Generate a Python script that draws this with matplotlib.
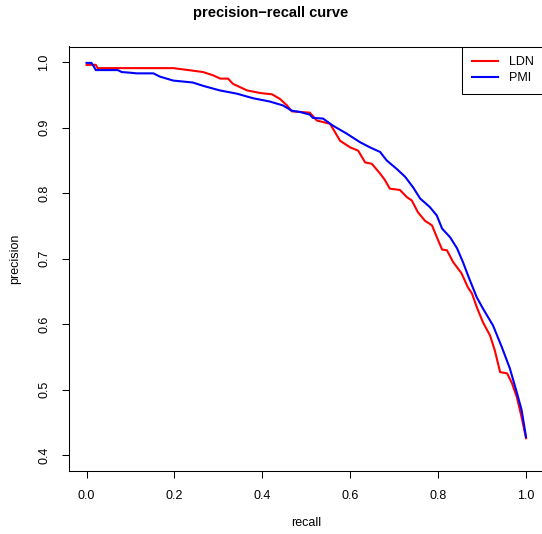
import matplotlib.pyplot as plt

plt.rcParams['font.family'] = ['Liberation Sans', 'DejaVu Sans']

# LDN curve (recall, precision)
ldn_recall = [0.0, 0.021, 0.025, 0.197, 0.243, 0.265, 0.288, 0.304, 0.322, 0.333,
              0.365, 0.395, 0.422, 0.440, 0.456, 0.467, 0.508, 0.524, 0.554, 0.577,
              0.600, 0.618, 0.634, 0.649, 0.668, 0.679, 0.690, 0.713, 0.729, 0.740,
              0.754, 0.770, 0.786, 0.797, 0.809, 0.820, 0.834, 0.853, 0.868, 0.877,
              0.888, 0.902, 0.918, 0.929, 0.941, 0.957, 0.968, 0.979, 0.990, 1.0]
ldn_precision = [0.996, 0.996, 0.991, 0.991, 0.987, 0.985, 0.980, 0.975, 0.975, 0.967,
                 0.957, 0.953, 0.951, 0.944, 0.934, 0.925, 0.923, 0.911, 0.906, 0.880,
                 0.870, 0.865, 0.847, 0.845, 0.830, 0.820, 0.807, 0.805, 0.794, 0.789,
                 0.771, 0.758, 0.751, 0.733, 0.714, 0.713, 0.695, 0.678, 0.656, 0.647,
                 0.626, 0.603, 0.583, 0.560, 0.527, 0.525, 0.510, 0.489, 0.458, 0.426]

# PMI curve
pmi_recall = [0.0, 0.011, 0.015, 0.021, 0.071, 0.080, 0.099, 0.114, 0.152, 0.167,
              0.197, 0.242, 0.265, 0.303, 0.342, 0.379, 0.417, 0.447, 0.467, 0.486,
              0.508, 0.515, 0.538, 0.561, 0.592, 0.622, 0.645, 0.668, 0.683, 0.706,
              0.725, 0.743, 0.759, 0.781, 0.797, 0.809, 0.827, 0.843, 0.857, 0.870,
              0.888, 0.902, 0.925, 0.945, 0.963, 0.979, 0.990, 1.0]
pmi_precision = [0.999, 0.999, 0.995, 0.988, 0.988, 0.985, 0.984, 0.983, 0.983, 0.978,
                 0.972, 0.969, 0.964, 0.957, 0.952, 0.945, 0.940, 0.934, 0.926, 0.924,
                 0.920, 0.915, 0.914, 0.903, 0.891, 0.878, 0.870, 0.863, 0.850, 0.837,
                 0.825, 0.809, 0.792, 0.779, 0.766, 0.746, 0.733, 0.716, 0.694, 0.671,
                 0.641, 0.624, 0.598, 0.565, 0.533, 0.496, 0.469, 0.428]

x_ticks = [0.0, 0.2, 0.4, 0.6, 0.8, 1.0]
y_ticks = [0.4, 0.5, 0.6, 0.7, 0.8, 0.9, 1.0]

W, H = 542, 534
fig = plt.figure(figsize=(W / 100, H / 100), dpi=100)
left, right, top, bottom = 69, 543.6, 46.5, 471
ax = fig.add_axes([left / W, (H - bottom) / H, (right - left) / W, (bottom - top) / H])

ax.plot(ldn_recall, ldn_precision, color='#ff0000', lw=1.5, label='LDN')
ax.plot(pmi_recall, pmi_precision, color='#0000ff', lw=1.5, label='PMI')

ax.set_xlim(-0.04, 1.04)
ax.set_ylim(0.376, 1.024)
ax.set_xticks(x_ticks)
ax.set_xticklabels(['%.1f' % v for v in x_ticks])
ax.set_yticks(y_ticks)
ax.set_yticklabels(['%.1f' % v for v in y_ticks], rotation=90, va='center')
ax.tick_params(direction='out', length=5, width=0.75, labelsize=9, pad=8.5)
for s in ax.spines.values():
    s.set_linewidth(0.75)

ax.set_xlabel('recall', fontsize=9, labelpad=11)
ax.set_ylabel('precision', fontsize=9, labelpad=12)
fig.text(0.5, 1 - 13 / H, 'precision\u2212recall curve', ha='center', va='center',
         fontsize=10.5, fontweight='bold')

leg = ax.legend(loc='upper right', borderaxespad=0, fancybox=False, edgecolor='black',
                framealpha=1, fontsize=9, handlelength=2.1, handletextpad=0.9,
                labelspacing=0.35, borderpad=0.75)
leg.get_frame().set_linewidth(0.75)

fig.savefig('out.png', dpi=100)
